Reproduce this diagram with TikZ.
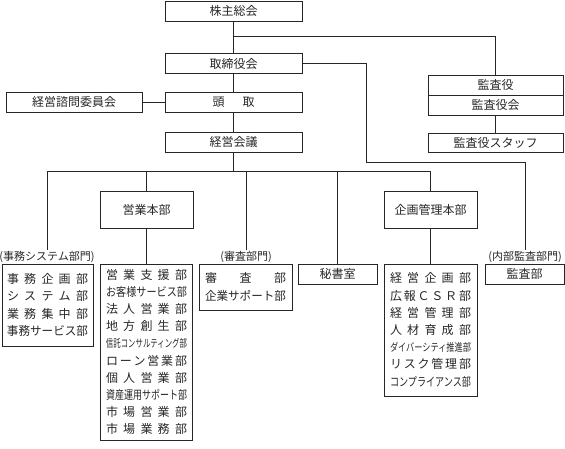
\documentclass[tikz,border=0pt]{standalone}
\usepackage{fontspec}
\setmainfont{Noto Sans CJK JP}
\usepackage{graphicx}
\usepackage{tikz}
\newcommand\sline[1]{\makebox[81pt][s]{#1}}
\newcommand\nline[2][.9]{\resizebox{81pt}{#1\height}{#2}}

\begin{document}
\begin{tikzpicture}[x=1pt, y=-1pt, line width=0.7pt, color=black!85,
  every node/.style={font=\fontsize{12}{17.2}\selectfont},
  box/.style={draw, inner sep=0pt, minimum height=20pt},
  top/.style={box, minimum width=137pt},
  kan/.style={box, minimum width=135pt},
  list/.style={box, align=center, minimum width=92pt},
  small/.style={box, minimum width=79pt},
  sect/.style={inner sep=1pt, font=\fontsize{11}{12}\selectfont}]
  \useasboundingbox (0,0) rectangle (565,448);
  \node[top] (soukai) at (233.5,11) {株主総会};
  \node[top] (torishimari) at (233.5,63.5) {取締役会};
  \node[top] (toudori) at (233.5,102) {頭\hspace{1.5em}取};
  \node[box, minimum width=136pt] (shimon) at (74,102) {経営諮問委員会};
  \node[top] (kaigi) at (233.5,142) {経営会議};
  \node[kan] (kansayaku) at (495.5,85) {監査役};
  \node[kan] (kansayakukai) at (495.5,105) {監査役会};
  \node[kan, minimum height=19pt] (staff) at (495.5,142.5) {監査役スタッフ};
  \node[box, minimum width=93pt, minimum height=37pt] (eigyo) at (146.5,209.5) {営業本部};
  \node[box, minimum width=93pt, minimum height=37pt] (kikaku) at (430.5,209.5) {企画管理本部};
  \node[sect] (jimulabel) at (47,257) {(事務システム部門)};
  \node[sect] (shinsalabel) at (246,257) {(審査部門)};
  \node[sect] (naibulabel) at (525,257) {(内部監査部門)};
  \node[list, minimum width=91pt, minimum height=82pt] (jimulist) at (47.5,305) {
    \sline{事\hfill 務\hfill 企\hfill 画\hfill 部}\\
    \sline{シ\hfill ス\hfill テ\hfill ム\hfill 部}\\
    \sline{業\hfill 務\hfill 集\hfill 中\hfill 部}\\
    \nline[1]{事務サービス部}};
  \node[list, minimum height=176pt] (eigyolist) at (146.5,352) {
    \sline{営\hfill 業\hfill 支\hfill 援\hfill 部}\\
    \nline[1]{お客様サービス部}\\
    \sline{法\hfill 人\hfill 営\hfill 業\hfill 部}\\
    \sline{地\hfill 方\hfill 創\hfill 生\hfill 部}\\
    \nline{信託コンサルティング部}\\
    \sline{ロ\hfill ー\hfill ン\hfill 営\hfill 業\hfill 部}\\
    \sline{個\hfill 人\hfill 営\hfill 業\hfill 部}\\
    \nline[1]{資産運用サポート部}\\
    \sline{市\hfill 場\hfill 営\hfill 業\hfill 部}\\
    \sline{市\hfill 場\hfill 業\hfill 務\hfill 部}};
  \node[list, minimum width=93pt, minimum height=46pt] (shinsalist) at (245.5,287) {
    \sline{審\hfill 査\hfill 部}\\
    \nline[1]{企業サポート部}};
  \node[small] (hisho) at (337.5,274) {秘書室};
  \node[list, minimum width=93pt, minimum height=132pt] (kikakulist) at (430.5,330) {
    \sline{経\hfill 営\hfill 企\hfill 画\hfill 部}\\
    \sline{広\hfill 報\hfill Ｃ\hfill Ｓ\hfill Ｒ\hfill 部}\\
    \sline{経\hfill 営\hfill 管\hfill 理\hfill 部}\\
    \sline{人\hfill 材\hfill 育\hfill 成\hfill 部}\\
    \nline{ダイバーシティ推進部}\\
    \sline{リ\hfill ス\hfill ク\hfill 管\hfill 理\hfill 部}\\
    \nline[1]{コンプライアンス部}};
  \node[small] (kansa) at (524.5,274) {監査部};
  \coordinate (kb) at (233.5,36);
  \coordinate (kt) at (366,162);
  \coordinate (bus) at (233.5,171);
  \draw (soukai) -- (torishimari);
  \draw (torishimari) -- (toudori);
  \draw (toudori) -- (kaigi);
  \draw (shimon) -- (toudori);
  \draw (kb) -| (kansayaku);
  \draw (kansayakukai) -- (staff);
  \draw (torishimari.east) -| (kt) -| (naibulabel);
  \draw (kaigi) -- (bus);
  \draw (jimulabel |- bus) -- (kikaku |- bus);
  \draw (jimulabel) -- (jimulabel |- bus);
  \draw (eigyo) -- (eigyo |- bus);
  \draw (shinsalabel) -- (shinsalabel |- bus);
  \draw (hisho) -- (hisho |- bus);
  \draw (kikaku) -- (kikaku |- bus);
  \draw (eigyo) -- (eigyolist);
  \draw (kikaku) -- (kikakulist);
\end{tikzpicture}
\end{document}
